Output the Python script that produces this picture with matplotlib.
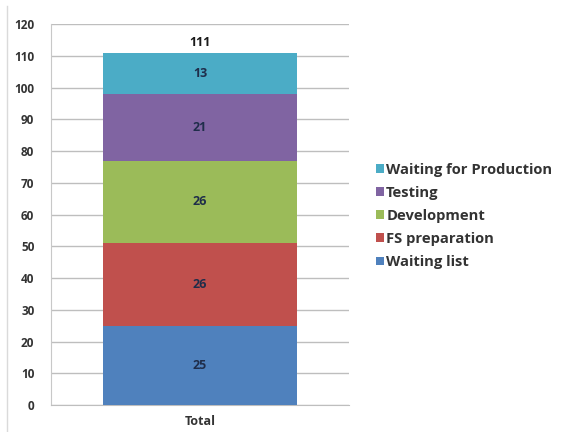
import matplotlib.pyplot as plt
from matplotlib.lines import Line2D

plt.rcParams["font.family"] = ["Open Sans", "DejaVu Sans"]

categories = ["Total"]
stages = ["Waiting list", "FS preparation", "Development", "Testing", "Waiting for Production"]
counts = [25, 26, 26, 21, 13]
colors = ["#4F81BD", "#C0504D", "#9BBB59", "#8064A2", "#4BACC6"]
yticks = list(range(0, 121, 10))

fig = plt.figure(figsize=(5.71, 4.32), dpi=100)
fig.patch.set_facecolor("white")
ax = fig.add_axes([0.0893, 0.0625, 0.5219, 0.8819])

bottom = 0
handles = []
for stage, value, color in zip(stages, counts, colors):
    bars = ax.bar(categories, [value], bottom=[bottom], width=0.648, color=color,
                  edgecolor="none", zorder=3)
    ax.text(0, bottom + value / 2, str(value), ha="center", va="center",
            fontsize=9, fontweight="bold", color="#1F2D4A", zorder=4)
    handles.append(bars)
    bottom += value

ax.text(0, bottom + 1.0, str(bottom), ha="center", va="bottom",
        fontsize=9, fontweight="bold", color="#1A1A1A", zorder=4)

ax.set_xlim(-0.5, 0.5)
ax.set_ylim(0, 120)
ax.set_yticks(yticks)
ax.yaxis.grid(True, color="#BEBEBE", linewidth=1.0, zorder=0)
ax.set_axisbelow(True)
ax.tick_params(axis="y", length=0, pad=12, labelsize=8.5, labelcolor="#333333")
ax.tick_params(axis="x", length=0, pad=7, labelsize=9, labelcolor="#333333")
for lbl in ax.get_yticklabels() + ax.get_xticklabels():
    lbl.set_fontweight("bold")

for side in ["top", "right"]:
    ax.spines[side].set_visible(False)
ax.spines["left"].set_color("#C8C8C8")
ax.spines["bottom"].set_color("#BEBEBE")

leg = fig.legend(handles[::-1], stages[::-1], loc="center left",
                 bbox_to_anchor=(0.635, 0.50), frameon=False,
                 prop={"size": 10.6, "weight": "bold"}, handlelength=0.55,
                 handleheight=0.55, handletextpad=0.15, labelspacing=0.62)
for t in leg.get_texts():
    t.set_color("#333333")

fig.add_artist(Line2D([0.013, 0.013], [0.0, 0.985], transform=fig.transFigure,
                      color="#DADADA", linewidth=1.0))

fig.savefig("out.png", dpi=100)
